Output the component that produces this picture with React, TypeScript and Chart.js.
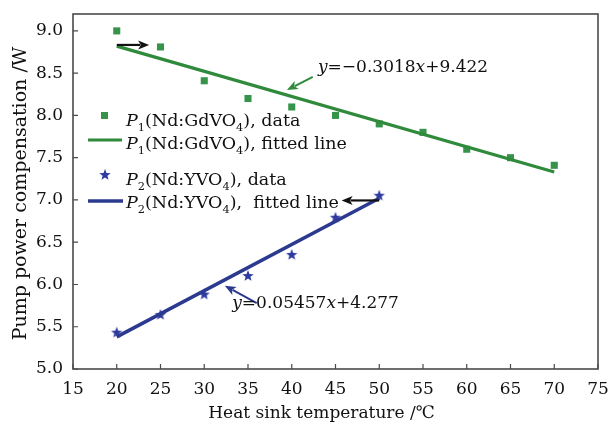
import React, { useEffect, useRef } from "react";
import { Chart, registerables } from "chart.js";
Chart.register(...registerables);

const FONT = "'DejaVu Serif', serif";
const TICK_SIZE = 17;
const TEXT_SIZE = 17;
const YTITLE_SIZE = 19;
const LEGEND_SIZE = 17.5;
const TEXT_COLOR = "#111";

// ---- data ----
const temps1 = [20, 25, 30, 35, 40, 45, 50, 55, 60, 65, 70];
const p1Values = [9.0, 8.81, 8.41, 8.2, 8.1, 8.0, 7.9, 7.8, 7.6, 7.5, 7.41];
const fit1X = [20, 70];
const fit1Y = [8.82, 7.33];
const temps2 = [20, 25, 30, 35, 40, 45, 50];
const p2Values = [5.43, 5.64, 5.88, 6.1, 6.35, 6.79, 7.05];
const fit2X = [20, 50];
const fit2Y = [5.38, 7.02];

const xAxisMin = 15;
const xAxisMax = 75;
const xAxisStep = 5;
const yAxisMin = 5;
const yAxisMax = 9.2;
const yTickValues = [5.0, 5.5, 6.0, 6.5, 7.0, 7.5, 8.0, 8.5, 9.0];

const xTitle = "Heat sink temperature /℃";
const yTitle = "Pump power compensation /W";

type Seg = { t: string; it?: boolean; sub?: boolean };
const legend1: Seg[] = [{ t: "P", it: true }, { t: "1", sub: true }, { t: "(Nd:GdVO" }, { t: "4", sub: true }, { t: "), data" }];
const legend2: Seg[] = [{ t: "P", it: true }, { t: "1", sub: true }, { t: "(Nd:GdVO" }, { t: "4", sub: true }, { t: "), fitted line" }];
const legend3: Seg[] = [{ t: "P", it: true }, { t: "2", sub: true }, { t: "(Nd:YVO" }, { t: "4", sub: true }, { t: "), data" }];
const legend4: Seg[] = [{ t: "P", it: true }, { t: "2", sub: true }, { t: "(Nd:YVO" }, { t: "4", sub: true }, { t: "),  fitted line" }];
const eq1: Seg[] = [{ t: "y", it: true }, { t: "=−0.3018" }, { t: "x", it: true }, { t: "+9.422" }];
const eq2: Seg[] = [{ t: "y", it: true }, { t: "=0.05457" }, { t: "x", it: true }, { t: "+4.277" }];

const GREEN = "#2f8a3c";
const GREEN_PT = "#36944a";
const BLUE = "#2b3a8f";
const BLUE_PT = "#2f3aa0";

function makeStar(color: string, r: number) {
  const c = document.createElement("canvas");
  const s = Math.ceil(r * 2 + 2);
  c.width = s;
  c.height = s;
  const g = c.getContext("2d")!;
  g.fillStyle = color;
  g.beginPath();
  for (let i = 0; i < 10; i++) {
    const rad = i % 2 === 0 ? r : r * 0.42;
    const a = -Math.PI / 2 + (i * Math.PI) / 5;
    const x = s / 2 + rad * Math.cos(a);
    const y = s / 2 + rad * Math.sin(a);
    if (i === 0) g.moveTo(x, y);
    else g.lineTo(x, y);
  }
  g.closePath();
  g.fill();
  return c;
}

function drawRich(ctx: CanvasRenderingContext2D, x: number, y: number, segs: Seg[], size: number, color: string) {
  ctx.fillStyle = color;
  ctx.textBaseline = "alphabetic";
  ctx.textAlign = "left";
  let cx = x;
  for (const s of segs) {
    const fs = s.sub ? size * 0.65 : size;
    ctx.font = `${s.it ? "italic " : ""}${fs}px ${FONT}`;
    const dy = s.sub ? size * 0.28 : 0;
    ctx.fillText(s.t, cx, y + dy);
    cx += ctx.measureText(s.t).width;
  }
}

function arrow(ctx: CanvasRenderingContext2D, x1: number, y1: number, x2: number, y2: number, color: string, w: number, hl: number, hw: number) {
  const a = Math.atan2(y2 - y1, x2 - x1);
  ctx.strokeStyle = color;
  ctx.fillStyle = color;
  ctx.lineWidth = w;
  ctx.beginPath();
  ctx.moveTo(x1, y1);
  ctx.lineTo(x2 - hl * 0.8 * Math.cos(a), y2 - hl * 0.8 * Math.sin(a));
  ctx.stroke();
  ctx.beginPath();
  ctx.moveTo(x2, y2);
  ctx.lineTo(x2 - hl * Math.cos(a) + hw * Math.sin(a), y2 - hl * Math.sin(a) - hw * Math.cos(a));
  ctx.lineTo(x2 - hl * 0.75 * Math.cos(a), y2 - hl * 0.75 * Math.sin(a));
  ctx.lineTo(x2 - hl * Math.cos(a) - hw * Math.sin(a), y2 - hl * Math.sin(a) + hw * Math.cos(a));
  ctx.closePath();
  ctx.fill();
}

const overlay = {
  id: "overlay",
  afterDraw(chart: any) {
    const ctx: CanvasRenderingContext2D = chart.ctx;
    const { left, right, top, bottom } = chart.chartArea;
    const xs = chart.scales.x;
    const ys = chart.scales.y;
    const X = (v: number) => xs.getPixelForValue(v);
    const Y = (v: number) => ys.getPixelForValue(v);
    ctx.save();
    // frame
    ctx.strokeStyle = "#4a4a4a";
    ctx.lineWidth = 1.6;
    ctx.strokeRect(left, top, right - left, bottom - top);
    // inner ticks
    ctx.lineWidth = 1.2;
    ctx.beginPath();
    xs.ticks.forEach((t: any) => {
      const px = X(t.value);
      ctx.moveTo(px, bottom);
      ctx.lineTo(px, bottom - 5);
    });
    ys.ticks.forEach((t: any) => {
      const py = Y(t.value);
      ctx.moveTo(left, py);
      ctx.lineTo(left + 5, py);
    });
    ctx.stroke();

    // axis titles
    ctx.fillStyle = TEXT_COLOR;
    ctx.font = `${TEXT_SIZE}px ${FONT}`;
    ctx.textAlign = "center";
    ctx.textBaseline = "alphabetic";
    ctx.fillText(xTitle, (left + right) / 2 - 14, 418);
    ctx.save();
    ctx.font = `${YTITLE_SIZE}px ${FONT}`;
    ctx.translate(21, (top + bottom) / 2 + 2);
    ctx.rotate(-Math.PI / 2);
    ctx.textBaseline = "middle";
    ctx.fillText(yTitle, 0, 0);
    ctx.restore();

    // legend
    const lx = left + 15;
    const tx = left + 53;
    ctx.fillStyle = GREEN_PT;
    ctx.fillRect(lx + 13, top + 98, 7, 7);
    drawRich(ctx, tx, top + 112, legend1, LEGEND_SIZE, TEXT_COLOR);
    ctx.strokeStyle = GREEN;
    ctx.lineWidth = 3;
    ctx.beginPath();
    ctx.moveTo(lx, top + 126);
    ctx.lineTo(lx + 34, top + 126);
    ctx.stroke();
    drawRich(ctx, tx, top + 135, legend2, LEGEND_SIZE, TEXT_COLOR);
    const star = makeStar(BLUE_PT, 6);
    ctx.drawImage(star, lx + 17 - star.width / 2, top + 161 - star.height / 2);
    drawRich(ctx, tx, top + 171, legend3, LEGEND_SIZE, TEXT_COLOR);
    ctx.strokeStyle = BLUE;
    ctx.lineWidth = 3.5;
    ctx.beginPath();
    ctx.moveTo(lx, top + 187);
    ctx.lineTo(lx + 35, top + 187);
    ctx.stroke();
    drawRich(ctx, tx, top + 194, legend4, LEGEND_SIZE, TEXT_COLOR);

    // annotations (data coordinates)
    arrow(ctx, X(42.4), Y(8.455), X(39.45), Y(8.3), GREEN, 2, 11, 4.5);
    drawRich(ctx, X(43.0), Y(8.513), eq1, TEXT_SIZE, TEXT_COLOR);
    arrow(ctx, X(36.0), Y(5.78), X(32.35), Y(5.985), BLUE, 2, 11, 4.5);
    drawRich(ctx, X(33.2), Y(5.724), eq2, TEXT_SIZE, TEXT_COLOR);
    arrow(ctx, X(20.0), Y(8.834), X(23.7), Y(8.834), "#111", 2.2, 11, 4.5);
    arrow(ctx, X(50.0), Y(6.994), X(45.7), Y(6.994), "#111", 2.2, 11, 4.5);
    ctx.restore();
  },
};

function zeroPad(s: any) {
  s.paddingTop = 0;
  s.paddingBottom = 0;
  s.paddingLeft = 0;
  s.paddingRight = 0;
}

export default function App() {
  const ref = useRef<HTMLCanvasElement>(null);
  useEffect(() => {
    const star = makeStar(BLUE_PT, 6);
    const chart = new Chart(ref.current!, {
      type: "scatter",
      data: {
        datasets: [
          {
            label: "P1(Nd:GdVO4), fitted line",
            type: "line",
            data: fit1X.map((x, i) => ({ x, y: fit1Y[i] })),
            borderColor: GREEN,
            borderWidth: 3.2,
            pointRadius: 0,
            showLine: true,
          },
          {
            label: "P2(Nd:YVO4), fitted line",
            type: "line",
            data: fit2X.map((x, i) => ({ x, y: fit2Y[i] })),
            borderColor: BLUE,
            borderWidth: 3.6,
            pointRadius: 0,
            showLine: true,
          },
          {
            label: "P1(Nd:GdVO4), data",
            data: temps1.map((x, i) => ({ x, y: p1Values[i] })),
            pointStyle: "rect",
            pointRadius: 5,
            backgroundColor: GREEN_PT,
            borderWidth: 0,
          },
          {
            label: "P2(Nd:YVO4), data",
            data: temps2.map((x, i) => ({ x, y: p2Values[i] })),
            pointStyle: star as any,
            pointRadius: 6,
            backgroundColor: BLUE_PT,
            borderWidth: 0,
          },
        ],
      },
      options: {
        animation: false,
        responsive: false,
        maintainAspectRatio: false,
        layout: { padding: { top: 14, right: 14, left: 0, bottom: 0 } },
        plugins: { legend: { display: false }, tooltip: { enabled: false } },
        scales: {
          x: {
            type: "linear",
            min: xAxisMin,
            max: xAxisMax,
            grid: { display: false, drawTicks: false },
            border: { display: false },
            ticks: {
              stepSize: xAxisStep,
              padding: 10,
              color: TEXT_COLOR,
              font: { family: FONT, size: TICK_SIZE },
              callback: (v: any) => String(v),
            },
            afterFit: (s: any) => {
              s.height = 54;
              zeroPad(s);
            },
          },
          y: {
            type: "linear",
            min: yAxisMin,
            max: yAxisMax,
            grid: { display: false, drawTicks: false },
            border: { display: false },
            afterBuildTicks: (s: any) => {
              s.ticks = yTickValues.map((v) => ({ value: v }));
            },
            ticks: {
              padding: 10,
              color: TEXT_COLOR,
              font: { family: FONT, size: TICK_SIZE },
              callback: (v: any) => Number(v).toFixed(1),
            },
            afterFit: (s: any) => {
              s.width = 73;
              zeroPad(s);
            },
          },
        },
      },
      plugins: [overlay],
    });
    return () => chart.destroy();
  }, []);
  return (
    <div style={{ position: "fixed", left: 0, top: 0, width: 612, height: 423, background: "#fff" }}>
      <canvas ref={ref} width={612} height={423} style={{ width: 612, height: 423 }} />
    </div>
  );
}
